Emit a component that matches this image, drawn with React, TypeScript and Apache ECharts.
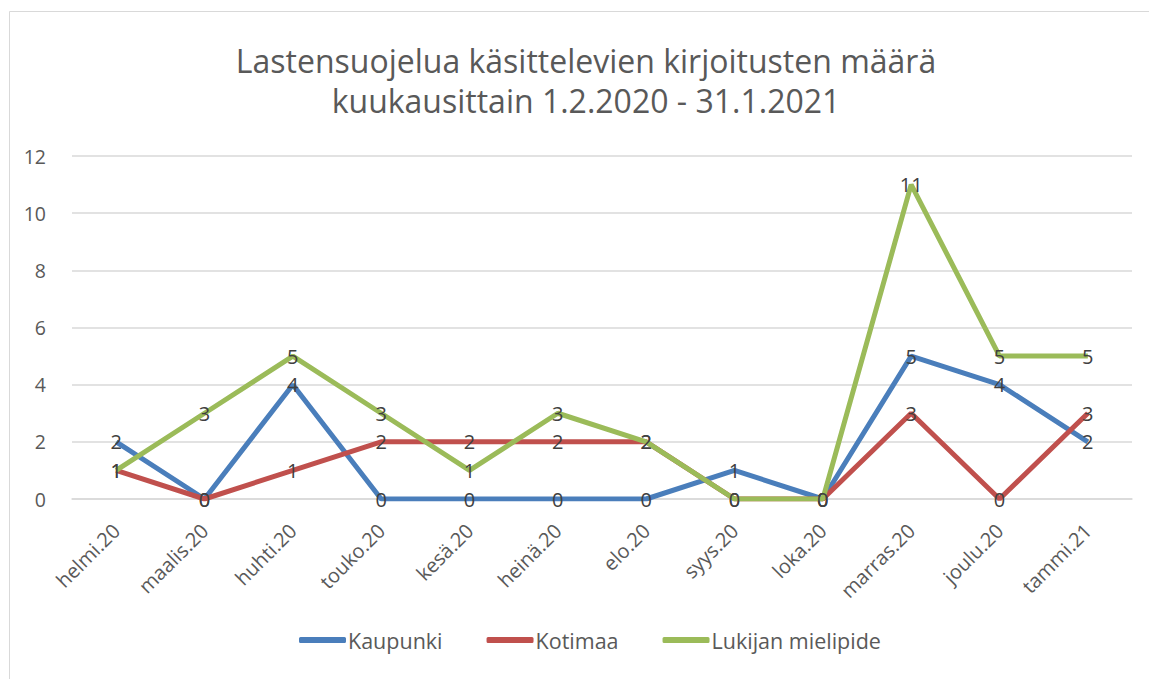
import React, { useEffect, useRef } from "react";
import * as echarts from "echarts";

const categories = ["helmi.20", "maalis.20", "huhti.20", "touko.20", "kesä.20", "heinä.20", "elo.20", "syys.20", "loka.20", "marras.20", "joulu.20", "tammi.21"];
const kaupunki = [2, 0, 4, 0, 0, 0, 0, 1, 0, 5, 4, 2];
const kotimaa = [1, 0, 1, 2, 2, 2, 2, 0, 0, 3, 0, 3];
const lukijan = [1, 3, 5, 3, 1, 3, 2, 0, 0, 11, 5, 5];
const seriesNames = ["Kaupunki", "Kotimaa", "Lukijan mielipide"];
const colors = ["#4a7ebb", "#c0504d", "#9bbb59"];
const titleLines = ["Lastensuojelua käsittelevien kirjoitusten määrä", "kuukausittain 1.2.2020 - 31.1.2021"];

const FONT = "'Open Sans', Roboto, sans-serif";

export default function App() {
  const ref = useRef<HTMLDivElement>(null);
  useEffect(() => {
    if (!ref.current) return;
    const chart = echarts.init(ref.current, undefined, { renderer: "svg" });
    const data = [kaupunki, kotimaa, lukijan];
    chart.setOption({
      animation: false,
      backgroundColor: "#ffffff",
      textStyle: { fontFamily: FONT },
      title: titleLines.map((t, i) => ({
        text: t,
        left: 586,
        textAlign: "center",
        top: 40 + i * 40,
        padding: 0,
        textStyle: { fontFamily: FONT, fontSize: 32, fontWeight: "normal", color: "#595959", lineHeight: 40 },
      })),
      graphic: [
        { type: "rect", shape: { x: 9.5, y: 11.5, width: 1160, height: 700 }, style: { fill: "none", stroke: "#d9d9d9", lineWidth: 1 }, silent: true },
      ],
      legend: {
        bottom: 23,
        left: 294,
        itemWidth: 47,
        itemHeight: 6,
        itemGap: 44,
        icon: "roundRect",
        textStyle: { fontFamily: FONT, fontSize: 21.5, color: "#595959", padding: [0, 0, 0, -3] },
        data: seriesNames,
      },
      grid: { left: 72, right: 17, top: 156, bottom: 180, containLabel: false },
      xAxis: {
        type: "category",
        data: categories,
        boundaryGap: true,
        axisLine: { show: true, lineStyle: { color: "#d9d9d9", width: 1.5 } },
        axisTick: { show: false },
        axisLabel: { rotate: 45, fontFamily: FONT, fontSize: 20, color: "#595959", margin: 28, interval: 0 },
      },
      yAxis: {
        type: "value",
        min: 0,
        max: 12,
        interval: 2,
        axisLine: { show: false },
        axisTick: { show: false },
        axisLabel: { fontFamily: FONT, fontSize: 19.5, color: "#595959", margin: 26 },
        splitLine: { lineStyle: { color: "#d9d9d9", width: 1.5 } },
      },
      series: seriesNames.map((name, i) => ({
        name,
        type: "line",
        data: data[i],
        color: colors[i],
        symbol: "circle",
        symbolSize: 0,
        showSymbol: true,
        lineStyle: { width: 5, color: colors[i] },
        itemStyle: { color: colors[i] },
        label: {
          show: true,
          position: "inside",
          fontFamily: FONT,
          fontSize: 20,
          color: "#404040",
        },
        z: 2 + i,
      })),
    });
    return () => chart.dispose();
  }, []);
  return <div ref={ref} style={{ position: "fixed", left: 0, top: 0, width: 1149, height: 679 }} />;
}
